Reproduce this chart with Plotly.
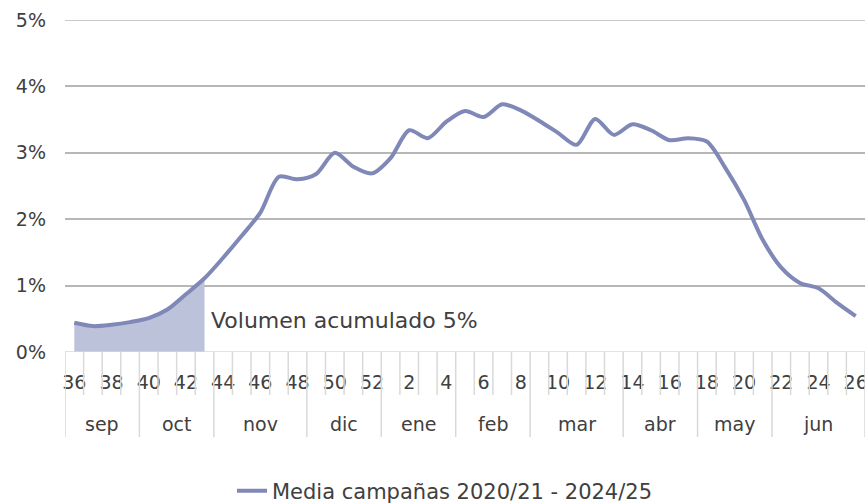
import plotly.graph_objects as go

weeks = [36, 37, 38, 39, 40, 41, 42, 43, 44, 45, 46, 47, 48, 49, 50, 51, 52,
         1, 2, 3, 4, 5, 6, 7, 8, 9, 10, 11, 12, 13, 14, 15, 16, 17, 18, 19, 20,
         21, 22, 23, 24, 25, 26]
values = [0.44, 0.39, 0.41, 0.45, 0.51, 0.64, 0.87, 1.11, 1.42, 1.75, 2.10, 2.64,
          2.60, 2.68, 3.00, 2.79, 2.69, 2.92, 3.34, 3.22, 3.47, 3.63, 3.54, 3.73,
          3.64, 3.48, 3.30, 3.12, 3.51, 3.27, 3.43, 3.34, 3.19, 3.22, 3.17, 2.77,
          2.29, 1.69, 1.27, 1.04, 0.96, 0.74, 0.54]
months = ["sep", "oct", "nov", "dic", "ene", "feb", "mar", "abr", "may", "jun"]
weeks_per_month = [4, 4, 5, 4, 4, 4, 5, 4, 4, 5]
fill_weeks = 8  # weeks 36-43 -> accumulated volume
annotation_text = "Volumen acumulado 5%"
series_name = "Media campañas 2020/21 - 2024/25"
y_max = 5

LINE = "#7f88b7"
FILL = "#bcc2da"
TXT = "#404040"
GRID = "#b7b7b7"
FONT = "DejaVu Sans"

idx = list(range(len(weeks)))

fig = go.Figure()
fig.add_trace(go.Scatter(
    x=idx[:fill_weeks], y=values[:fill_weeks], mode="lines",
    line=dict(width=0, shape="spline", smoothing=0.8), fill="tozeroy",
    fillcolor=FILL, showlegend=False, hoverinfo="skip"))
fig.add_trace(go.Scatter(
    x=idx, y=values, mode="lines", name=series_name,
    line=dict(color=LINE, width=4, shape="spline", smoothing=0.8)))

shapes = []
bounds = [0]
for n in weeks_per_month:
    bounds.append(bounds[-1] + n)
plot_h = 332
for b in range(len(weeks) + 1):
    long = b in bounds
    shapes.append(dict(type="line", xref="x", yref="paper",
                       x0=b - 0.5, x1=b - 0.5, y0=0,
                       y1=-(85 if long else 43) / plot_h,
                       line=dict(color="#d9d9d9", width=1.5)))
shapes.append(dict(type="line", xref="x", yref="y", x0=-0.5, x1=len(weeks) - 0.5,
                   y0=0, y1=0, line=dict(color="#d9d9d9", width=1.5)))
# top gridline (plotly drops the gridline at the range edge)
shapes.append(dict(type="line", xref="paper", yref="y", x0=0, x1=1,
                   y0=y_max, y1=y_max, layer="below",
                   line=dict(color=GRID, width=1.5)))

annotations = []
for m, a, b in zip(months, bounds[:-1], bounds[1:]):
    annotations.append(dict(x=(a + b - 1) / 2, y=-72 / plot_h, xref="x", yref="paper",
                            text=m, showarrow=False, yanchor="middle",
                            font=dict(size=19, color=TXT, family=FONT)))
annotations.append(dict(x=fill_weeks - 1, y=0.48, xref="x", yref="y",
                        text=annotation_text, showarrow=False, xanchor="left",
                        xshift=4, yanchor="middle",
                        font=dict(size=22, color=TXT, family=FONT)))

tick_idx = [i for i in idx if weeks[i] % 2 == 0]
fig.update_layout(
    width=865, height=504,
    margin=dict(l=65, r=0, t=20, b=152, autoexpand=False),
    plot_bgcolor="white", paper_bgcolor="white",
    font=dict(family=FONT, color=TXT, size=19),
    shapes=shapes, annotations=annotations,
    showlegend=True,
    legend=dict(orientation="h", xref="paper", yref="paper",
                x=0.475, xanchor="center", y=-(491 - 352) / plot_h, yanchor="middle",
                font=dict(size=21, color=TXT, family=FONT)),
    xaxis=dict(range=[-0.5, len(weeks) - 0.5], tickvals=tick_idx,
               ticktext=[str(weeks[i]) for i in tick_idx], showgrid=False,
               zeroline=False, showline=False, ticks="", ticklabelstandoff=17,
               ticklabeloverflow="allow",
               tickfont=dict(size=19, color=TXT), tickangle=0, automargin=False),
    yaxis=dict(range=[0, y_max], dtick=1, ticksuffix="%", showgrid=True,
               gridcolor=GRID, gridwidth=1.5, zeroline=False, showline=False,
               ticks="", ticklabelstandoff=18, tickfont=dict(size=19, color=TXT),
               automargin=False),
)
fig.write_html(
    "out.html",
    config={"displayModeBar": False},
    post_script="document.body.style.margin='0';document.body.style.overflow='hidden';",
)
